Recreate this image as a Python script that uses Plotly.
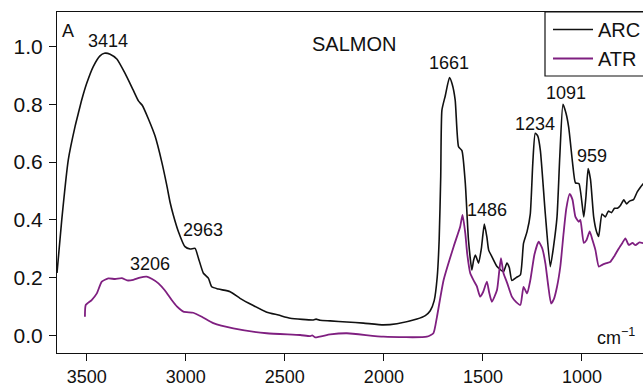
import plotly.graph_objects as go

# ARC (black) spectrum: wavenumber (cm-1) and absorbance
arc_wn = [3650, 3626, 3593, 3559, 3542, 3525, 3500, 3467, 3433, 3411, 3382, 3348, 3307, 3265,
          3239, 3219, 3189, 3155, 3121, 3096, 3079, 3063, 3037, 3004, 2978, 2953, 2936, 2911,
          2886, 2869, 2835, 2776, 2726, 2659, 2591, 2532, 2473, 2356, 2342, 2322, 2271, 2187,
          2103, 2002, 1934, 1833, 1791, 1766, 1746, 1731, 1721, 1713, 1707, 1690, 1669, 1655,
          1640, 1623, 1606, 1589, 1573, 1556, 1547, 1538, 1522, 1508, 1493, 1480, 1471, 1453,
          1429, 1413, 1396, 1379, 1367, 1354, 1332, 1311, 1295, 1277, 1261, 1248, 1236, 1223,
          1210, 1185, 1160, 1143, 1126, 1112, 1096, 1081, 1067, 1048, 1033, 1015, 991, 980,
          969, 957, 941, 927, 916, 899, 882, 867, 851, 836, 821, 806, 789, 775, 760, 740, 721,
          705, 690]
arc_abs = [0.216, 0.40, 0.608, 0.723, 0.770, 0.816, 0.873, 0.931, 0.968, 0.977, 0.974, 0.957,
           0.908, 0.849, 0.812, 0.796, 0.750, 0.690, 0.600, 0.520, 0.460, 0.417, 0.359, 0.307,
           0.299, 0.301, 0.267, 0.215, 0.198, 0.168, 0.160, 0.151, 0.128, 0.103, 0.080, 0.070,
           0.059, 0.053, 0.056, 0.052, 0.050, 0.046, 0.042, 0.036, 0.040, 0.056, 0.068, 0.085,
           0.120, 0.200, 0.330, 0.55, 0.78, 0.830, 0.893, 0.870, 0.815, 0.653, 0.640, 0.527,
           0.33, 0.226, 0.260, 0.278, 0.250, 0.30, 0.385, 0.340, 0.295, 0.270, 0.238, 0.228,
           0.220, 0.250, 0.235, 0.190, 0.200, 0.209, 0.319, 0.36, 0.42, 0.60, 0.700, 0.690,
           0.640, 0.42, 0.238, 0.31, 0.41, 0.62, 0.800, 0.77, 0.720, 0.60, 0.528, 0.525, 0.410,
           0.48, 0.578, 0.540, 0.410, 0.36, 0.342, 0.420, 0.410, 0.430, 0.425, 0.440, 0.440,
           0.450, 0.469, 0.455, 0.465, 0.470, 0.497, 0.513, 0.526]

# ATR (purple) spectrum
atr_wn = [3509, 3505, 3475, 3449, 3424, 3391, 3357, 3323, 3296, 3265, 3231, 3197, 3170, 3138,
          3105, 3071, 3045, 3012, 2962, 2919, 2861, 2760, 2591, 2423, 2372, 2362, 2347, 2271,
          2187, 2002, 1783, 1750, 1732, 1699, 1648, 1615, 1603, 1589, 1579, 1564, 1547, 1531,
          1514, 1499, 1480, 1469, 1455, 1429, 1418, 1409, 1396, 1377, 1354, 1332, 1311, 1295,
          1277, 1261, 1240, 1219, 1200, 1185, 1170, 1156, 1142, 1126, 1109, 1093, 1079, 1062,
          1048, 1033, 1016, 1008, 991, 977, 961, 947, 932, 915, 896, 876, 856, 836, 815, 796,
          781, 764, 745, 730, 710, 690]
atr_abs = [0.064, 0.105, 0.122, 0.145, 0.186, 0.197, 0.195, 0.198, 0.190, 0.192, 0.200, 0.203,
           0.195, 0.180, 0.155, 0.122, 0.100, 0.082, 0.078, 0.064, 0.042, 0.024, 0.007, 0.001,
           -0.003, 0.000, -0.007, 0.003, 0.007, -0.005, -0.005, 0.007, 0.064, 0.190, 0.307,
           0.376, 0.417, 0.353, 0.280, 0.215, 0.190, 0.170, 0.134, 0.150, 0.186, 0.150, 0.116,
           0.157, 0.220, 0.267, 0.215, 0.180, 0.134, 0.115, 0.105, 0.168, 0.145, 0.19, 0.28,
           0.324, 0.30, 0.250, 0.17, 0.110, 0.125, 0.168, 0.24, 0.353, 0.44, 0.490, 0.47, 0.410,
           0.393, 0.40, 0.320, 0.33, 0.360, 0.33, 0.295, 0.238, 0.245, 0.250, 0.255, 0.275,
           0.300, 0.320, 0.336, 0.313, 0.320, 0.312, 0.322, 0.319]

series_names = ["ARC", "ATR"]
series_colors = ["#111111", "#7f1f80"]

# Peak labels: text, x (cm-1), y (absorbance)
peak_text = ["3414", "3206", "2963", "1661", "1486", "1234", "1091", "959"]
peak_x = [3391, 3179, 2914, 1670, 1480, 1238, 1081, 951]
peak_y = [1.021, 0.247, 0.365, 0.944, 0.434, 0.732, 0.840, 0.622]

x_ticks = [3500, 3000, 2500, 2000, 1500, 1000]
y_ticks = [0.0, 0.2, 0.4, 0.6, 0.8, 1.0]

FONT = "Liberation Sans, Arial, sans-serif"
PLOT_W = 643 - 57
PLOT_H = 353 - 12
leg_x0 = (545 - 57) / PLOT_W
leg_y0 = 1 - (76 - 12) / PLOT_H

fig = go.Figure()
fig.add_trace(go.Scatter(x=arc_wn, y=arc_abs, mode="lines", name=series_names[0],
                         legendgroup="a",
                         line=dict(color=series_colors[0], width=1.6, shape="spline", smoothing=0.5)))
fig.add_trace(go.Scatter(x=atr_wn, y=atr_abs, mode="lines", name=series_names[1],
                         legendgroup="b",
                         line=dict(color=series_colors[1], width=1.8, shape="spline", smoothing=0.5)))

for t, x, y in zip(peak_text, peak_x, peak_y):
    fig.add_annotation(x=x, y=y, text=t, showarrow=False, xanchor="center", yanchor="middle",
                       font=dict(family=FONT, size=18, color="#111111"))

fig.add_annotation(x=2150, y=1.010, text="SALMON", showarrow=False, xanchor="center",
                   yanchor="middle", font=dict(family=FONT, size=20, color="#111111"))
fig.add_annotation(x=3597, y=1.055, text="A", showarrow=False, xanchor="center",
                   yanchor="middle", font=dict(family=FONT, size=18, color="#111111"))
fig.add_annotation(x=827, y=-0.052, text="cm<sup>−1</sup>", showarrow=False, xanchor="center",
                   yanchor="bottom", font=dict(family=FONT, size=18, color="#111111"))

# legend frame (extends past the right edge of the picture, as in the reference)
fig.add_shape(type="rect", xref="paper", yref="paper", x0=leg_x0, x1=1.2, y0=leg_y0, y1=1,
              line=dict(color="#111111", width=1.2), fillcolor="rgba(0,0,0,0)", layer="above")

fig.update_layout(
    width=643, height=388,
    margin=dict(l=57, r=0, t=12, b=35, autoexpand=False),
    paper_bgcolor="white", plot_bgcolor="white",
    font=dict(family=FONT, size=18, color="#111111"),
    showlegend=True,
    legend=dict(x=leg_x0 + 3 / PLOT_W, y=1 + 2 / PLOT_H, xanchor="left", yanchor="top",
                borderwidth=0, bgcolor="rgba(0,0,0,0)",
                font=dict(family=FONT, size=20, color="#111111"),
                tracegroupgap=0, itemwidth=40),
    xaxis=dict(range=[3650, 692], tickvals=x_ticks, ticks="outside", ticklen=7,
               tickwidth=1, tickcolor="#111111", showline=True, linecolor="#111111",
               linewidth=1.2, mirror=True, showgrid=False, zeroline=False,
               tickfont=dict(family=FONT, size=18, color="#111111")),
    yaxis=dict(range=[-0.0614, 1.120], tickvals=y_ticks, tickformat=".1f", ticks="outside",
               ticklen=7, tickwidth=1, tickcolor="#111111", showline=True,
               linecolor="#111111", linewidth=1.2, mirror=False, showgrid=False,
               zeroline=False, ticklabelstandoff=2,
               tickfont=dict(family=FONT, size=21, color="#111111")),
)

fig.write_html("out.html")
